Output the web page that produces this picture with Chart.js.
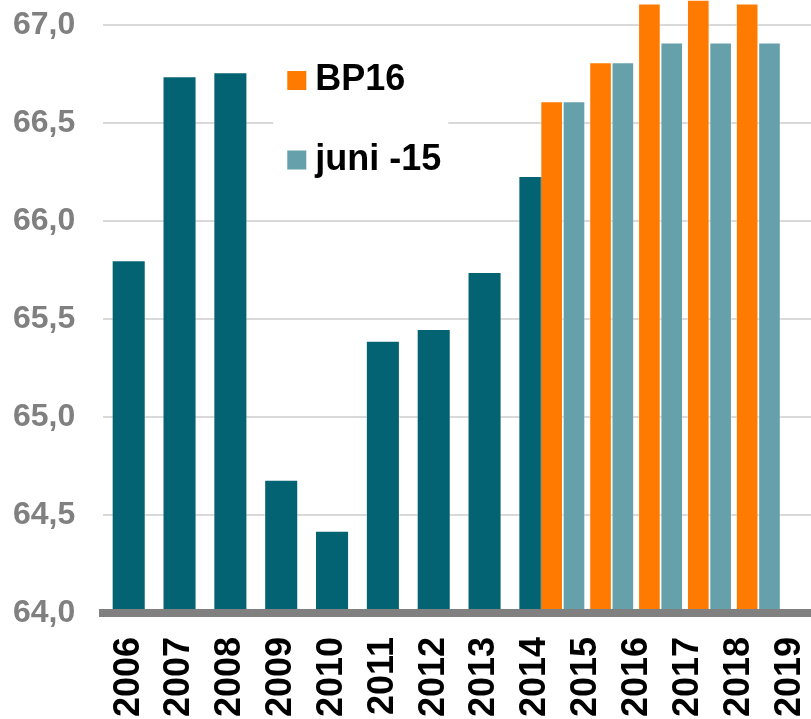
<!DOCTYPE html>
<html>
<head>
  <meta charset="UTF-8">
  <title>BP16 / juni -15</title>
  <script src="https://cdn.jsdelivr.net/npm/chart.js"></script>
  <style>
    html, body { margin: 0; padding: 0; background: #fff; overflow: hidden; }
    canvas { display: block; }
  </style>
</head>
<body>
  <canvas id="chart" width="815" height="719"></canvas>

  <script>
    // data
    const years = ['2006', '2007', '2008', '2009', '2010', '2011', '2012', '2013', '2014', '2015', '2016', '2017', '2018', '2019'];
    const historyValues = [65.80, 66.74, 66.76, 64.68, 64.42, 65.39, 65.45, 65.74, 66.23];
    const forecastYears = [2015, 2016, 2017, 2018, 2019];
    const bp16Values = [66.61, 66.81, 67.11, 67.20, 67.11];
    const juniValues = [66.61, 66.81, 66.91, 66.91, 66.91];

    const FONT = '"Liberation Sans", Arial, sans-serif';
    const DARK = '#046372';
    const ORANGE = '#FF7A00';
    const LIGHT = '#66A1AB';

    // legend drawn inside the plot, on a white box that hides the gridline
    const legendBox = {
      id: 'legendBox',
      beforeDatasetsDraw(chart) {
        const { ctx, chartArea } = chart;
        const x = chartArea.left + 170, y = 40;
        ctx.save();
        ctx.fillStyle = '#fff';
        ctx.fillRect(x, y, 175, 150);
        ctx.font = 'bold 36px ' + FONT;
        ctx.textBaseline = 'middle';
        chart.data.datasets.filter(ds => ds.inLegend).forEach((ds, i) => {
          const cy = y + 40.5 + i * 79.5;
          ctx.fillStyle = ds.backgroundColor;
          ctx.fillRect(x + 14, cy - 9.5, 19, 19);
          ctx.fillStyle = '#000';
          ctx.fillText(ds.label, x + 42, cy);
        });
        ctx.restore();
      }
    };

    const edge = 'rgba(255,255,255,0.35)';

    new Chart(document.getElementById('chart'), {
      type: 'bar',
      data: {
        labels: years,
        datasets: [
          {
            label: 'BP16', inLegend: true, xAxisID: 'xBP', order: 0, grouped: false,
            data: forecastYears.map((yr, i) => ({ x: yr, y: bp16Values[i] })),
            backgroundColor: ORANGE, borderColor: edge, borderWidth: 1,
            categoryPercentage: 1, barPercentage: 1, maxBarThickness: 22
          },
          {
            label: 'juni -15', inLegend: true, xAxisID: 'xJuni', order: 1, grouped: false,
            data: forecastYears.map((yr, i) => ({ x: yr, y: juniValues[i] })),
            backgroundColor: LIGHT, borderColor: edge, borderWidth: 1,
            categoryPercentage: 1, barPercentage: 1, maxBarThickness: 22
          },
          {
            label: 'Historik', xAxisID: 'x', order: 2, grouped: false,
            data: historyValues,
            backgroundColor: DARK, borderColor: edge, borderWidth: 1,
            categoryPercentage: 0.67, barPercentage: 1
          }
        ]
      },
      options: {
        responsive: false,
        animation: false,
        layout: { padding: { left: 13, top: 0, right: 0, bottom: 2 } },
        plugins: { legend: { display: false }, tooltip: { enabled: false } },
        scales: {
          x: {
            type: 'category',
            grid: { display: true, drawOnChartArea: false, tickLength: 24, tickColor: 'rgba(0,0,0,0)' },
            border: { display: true, color: '#808080', width: 8, z: 1 },
            ticks: {
              autoSkip: false, minRotation: 90, maxRotation: 90, padding: 0,
              color: '#000',
              font: { family: FONT, size: 36, weight: 'bold', lineHeight: 0.05 }
            }
          },
          // the two forecast series sit on their own hidden axes, side by side
          // (like the secondary axis of the original spreadsheet chart)
          xBP: {
            type: 'linear', display: false, offset: false, min: 2005.826, max: 2020.388,
            ticks: { stepSize: 1, includeBounds: false },
            grid: { display: false }
          },
          xJuni: {
            type: 'linear', display: false, offset: false, min: 2005.369, max: 2019.931,
            ticks: { stepSize: 1, includeBounds: false },
            grid: { display: false }
          },
          y: {
            min: 64, max: 67.125,
            grid: { color: '#d9d9d9', lineWidth: 2, tickLength: 28, tickColor: 'rgba(0,0,0,0)' },
            border: { display: false },
            ticks: {
              stepSize: 0.5, includeBounds: false, padding: 0,
              color: '#808080',
              font: { family: FONT, size: 32, weight: 'bold', lineHeight: 0.05 },
              callback: v => v.toFixed(1).replace('.', ',')
            }
          }
        }
      },
      plugins: [legendBox]
    });
  </script>
</body>
</html>
